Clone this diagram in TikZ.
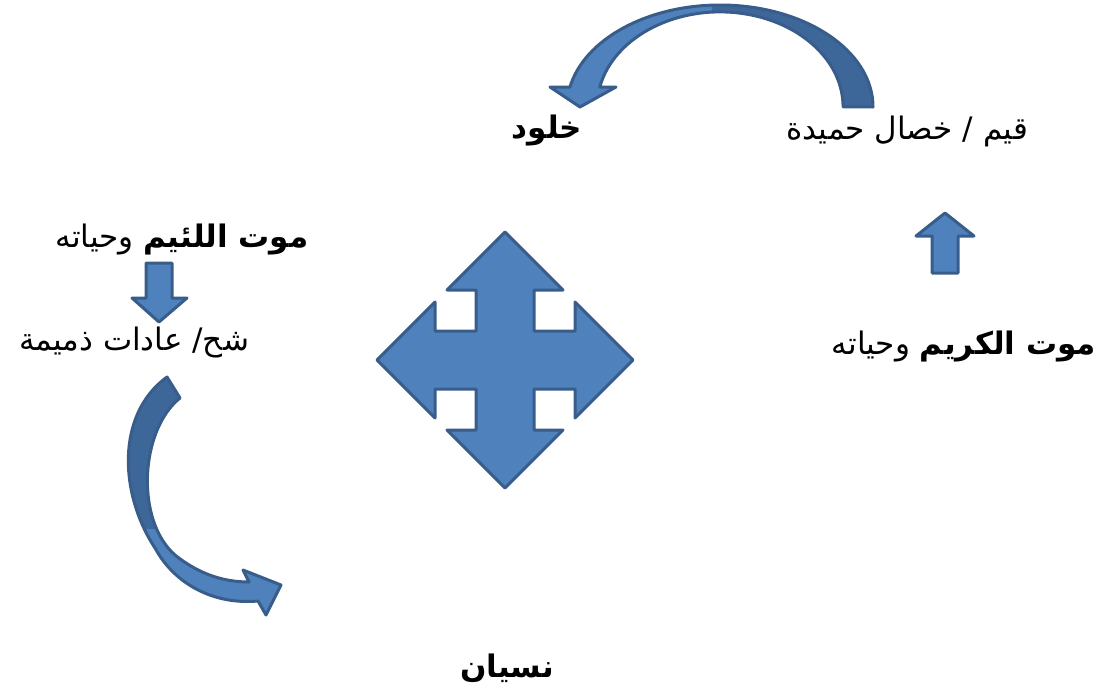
\documentclass[tikz,border=0pt]{standalone}
\usepackage{fontspec}
\newfontfamily\arabicfont[Script=Arabic]{DejaVu Sans}
\TeXXeTstate=1
\definecolor{arrowfill}{RGB}{79,129,189}
\definecolor{arrowline}{RGB}{56,93,138}
\definecolor{arrowback}{RGB}{62,103,153}

\begin{document}
\begin{tikzpicture}[yscale=-1
  ,pstyle0/.style={fill=arrowfill,draw=arrowline,line width=3pt,line join=round}
  ,pstyle1/.style={fill=arrowback}
  ,pstyle2/.style={draw=arrowline,line width=3pt,line join=round}
  ,tstyle0/.style={font=\arabicfont\fontsize{31}{36}\selectfont,inner sep=0pt,color=black}
]
\useasboundingbox (0pt,0pt) rectangle (1103pt,693pt);

% --- Texts ---
\node[tstyle0] (khulud) at (547pt,131pt) {\beginR\textbf{خلود}\endR};
\node[tstyle0] (qiyam) at (907pt,131pt) {\beginR قيم / خصال حميدة\endR};
\node[tstyle0] (mawtlaim) at (182pt,240pt) {\beginR\textbf{موت اللئيم} وحياته\endR};
\node[tstyle0] (shuh) at (134pt,343pt) {\beginR شح/ عادات ذميمة\endR};
\node[tstyle0] (mawtkarim) at (964pt,347pt) {\beginR\textbf{موت الكريم} وحياته\endR};
\node[tstyle0] (nisyan) at (507pt,668pt) {\beginR\textbf{نسيان}\endR};

% --- Four-way arrow in the middle ---
\draw[pstyle0] (505pt,232pt) -- (563pt,290pt) -- (534pt,290pt) -- (534pt,331pt)
  -- (575pt,331pt) -- (575pt,302pt) -- (633pt,360pt) -- (575pt,418pt) -- (575pt,389pt)
  -- (534pt,389pt) -- (534pt,430pt) -- (563pt,430pt) -- (505pt,488pt) -- (447pt,430pt)
  -- (476pt,430pt) -- (476pt,389pt) -- (435pt,389pt) -- (435pt,418pt) -- (377pt,360pt)
  -- (435pt,302pt) -- (435pt,331pt) -- (476pt,331pt) -- (476pt,290pt) -- (447pt,290pt) -- cycle;

% --- Small straight arrows ---
\draw[pstyle0] (146pt,263pt) -- (172pt,263pt) -- (172pt,298pt) -- (187pt,298pt)
  -- (159pt,322pt) -- (132pt,298pt) -- (146pt,298pt) -- cycle;

\draw[pstyle0] (932pt,273pt) -- (958pt,273pt) -- (958pt,236pt) -- (974pt,236pt)
  -- (945pt,213pt) -- (916pt,236pt) -- (932pt,236pt) -- cycle;

% --- Curved arrow at the top ---
\fill[pstyle0,draw=none] (873pt,107pt) arc[start angle=0,end angle=-168.7,x radius=153pt,y radius=102pt]
  -- (550pt,87pt) -- (580pt,107pt) -- (616pt,87pt) -- (599.8pt,87pt)
  arc[start angle=-167.9,end angle=0,x radius=123pt,y radius=95pt] -- cycle;
\begin{scope}
\clip (712pt,0pt) rectangle (900pt,120pt);
\fill[pstyle1] (873pt,107pt) arc[start angle=0,end angle=-168.7,x radius=153pt,y radius=102pt]
  -- (599.8pt,87pt) arc[start angle=-167.9,end angle=0,x radius=123pt,y radius=95pt] -- cycle;
\end{scope}
\draw[pstyle2] (873pt,107pt) arc[start angle=0,end angle=-168.7,x radius=153pt,y radius=102pt]
  -- (550pt,87pt) -- (580pt,107pt) -- (616pt,87pt) -- (599.8pt,87pt)
  arc[start angle=-167.9,end angle=0,x radius=123pt,y radius=95pt] -- cycle;

% --- Curved arrow on the left ---
\fill[pstyle0,draw=none] (180pt,398pt) .. controls (140pt,430pt) and (135pt,520pt) .. (175pt,555pt)
  .. controls (200pt,575pt) and (225pt,582pt) .. (249pt,582pt) -- (243pt,570pt) -- (281pt,585pt)
  -- (266pt,615pt) -- (258pt,601pt) .. controls (215pt,605pt) and (175pt,585pt) .. (155pt,548pt)
  .. controls (120pt,495pt) and (115pt,415pt) .. (167pt,377pt) -- cycle;
\begin{scope}
\clip (100pt,360pt) rectangle (200pt,528pt);
\fill[pstyle1] (180pt,398pt) .. controls (140pt,430pt) and (135pt,520pt) .. (175pt,555pt)
  -- (155pt,548pt) .. controls (120pt,495pt) and (115pt,415pt) .. (167pt,377pt) -- cycle;
\end{scope}
\draw[pstyle2] (180pt,398pt) .. controls (140pt,430pt) and (135pt,520pt) .. (175pt,555pt)
  .. controls (200pt,575pt) and (225pt,582pt) .. (249pt,582pt) -- (243pt,570pt) -- (281pt,585pt)
  -- (266pt,615pt) -- (258pt,601pt) .. controls (215pt,605pt) and (175pt,585pt) .. (155pt,548pt)
  .. controls (120pt,495pt) and (115pt,415pt) .. (167pt,377pt) -- cycle;

\end{tikzpicture}
\end{document}
